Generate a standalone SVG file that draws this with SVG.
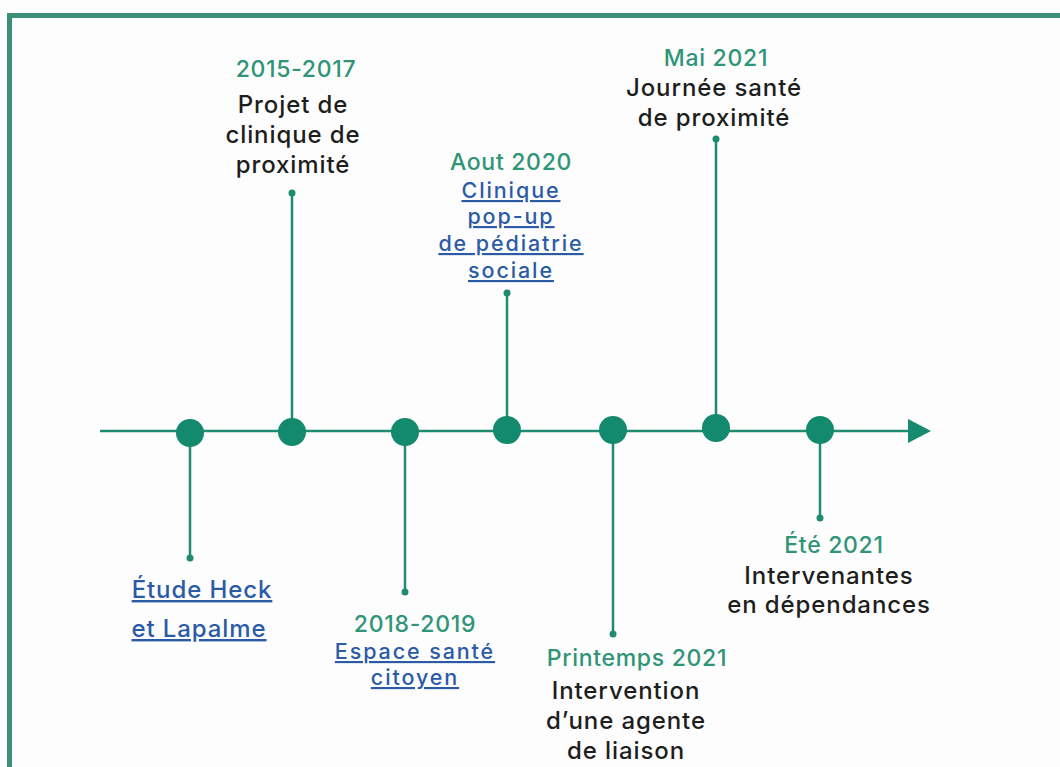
<svg xmlns="http://www.w3.org/2000/svg" width="1060" height="767" viewBox="0 0 1060 767">
<style>
.date{font-family:Inter,"Noto Sans",sans-serif;font-size:23px;font-weight:500;letter-spacing:0.7px;fill:#2f9478;text-anchor:middle}
.lbl{font-family:Inter,"Noto Sans",sans-serif;font-size:24px;font-weight:500;letter-spacing:0.9px;fill:#1e1e1e;text-anchor:middle}
.lnk{font-family:Inter,"Noto Sans",sans-serif;font-size:24px;font-weight:500;letter-spacing:0.9px;fill:#2b5ba6;text-anchor:middle;text-decoration:underline}
.tight{font-size:21.5px;letter-spacing:1.9px}
.stem{stroke:#1f8c72;stroke-width:2.5;fill:none}
.dot{fill:#138a6e}
.end{fill:#1f8c72}
</style>
<rect width="1060" height="767" fill="#fdfdfd"/>
<path d="M9.5,767 V15.5 H1060" fill="none" stroke="#3d8f7a" stroke-width="5"/>
<g id="connectors">
<line class="stem" x1="100" y1="431" x2="910" y2="431"/>
<path d="M908,419 L931,431 L908,443 z" fill="#168b70"/>
<line class="stem" x1="190" y1="434" x2="190" y2="558"/>
<line class="stem" x1="292" y1="431" x2="292" y2="193"/>
<line class="stem" x1="405" y1="431" x2="405" y2="592"/>
<line class="stem" x1="507" y1="431" x2="507" y2="293"/>
<line class="stem" x1="613" y1="431" x2="613" y2="634"/>
<line class="stem" x1="716" y1="431" x2="716" y2="139"/>
<line class="stem" x1="820" y1="431" x2="820" y2="518"/>
<circle class="end" cx="190" cy="558" r="3.5"/>
<circle class="end" cx="292" cy="193" r="3.5"/>
<circle class="end" cx="405" cy="592" r="3.5"/>
<circle class="end" cx="507" cy="293" r="3.5"/>
<circle class="end" cx="613" cy="634" r="3.5"/>
<circle class="end" cx="716" cy="139" r="3.5"/>
<circle class="end" cx="820" cy="518" r="3.5"/>
</g>
<g id="n1"><circle class="dot" cx="190" cy="433" r="14"/>
<text class="lnk" x="202" y="598">Étude Heck </text>
<text class="lnk" x="199" y="637">et Lapalme</text></g>
<g id="n2"><circle class="dot" cx="292" cy="432" r="14"/>
<text class="date" x="296" y="77">2015-2017</text>
<text class="lbl" x="293" y="113">Projet de</text>
<text class="lbl" x="293" y="143">clinique de</text>
<text class="lbl" x="293" y="173">proximité</text></g>
<g id="n3"><circle class="dot" cx="405" cy="432" r="14"/>
<text class="date" x="415" y="632">2018-2019</text>
<text class="lnk tight" x="415" y="659">Espace santé</text>
<text class="lnk tight" x="415" y="685">citoyen</text></g>
<g id="n4"><circle class="dot" cx="507" cy="430" r="14"/>
<text class="date" x="511" y="170">Aout 2020</text>
<text class="lnk tight" x="511" y="198">Clinique </text>
<text class="lnk tight" x="511" y="224">pop-up</text>
<text class="lnk tight" x="511" y="251">de pédiatrie</text>
<text class="lnk tight" x="511" y="278">sociale</text></g>
<g id="n5"><circle class="dot" cx="613" cy="430" r="14"/>
<text class="date" x="637" y="666">Printemps 2021</text>
<text class="lbl" x="626" y="699">Intervention</text>
<text class="lbl" x="626" y="729">d’une agente</text>
<text class="lbl" x="626" y="759">de liaison</text></g>
<g id="n6"><circle class="dot" cx="716" cy="428" r="14"/>
<text class="date" x="716" y="66">Mai 2021</text>
<text class="lbl" x="714" y="96">Journée santé</text>
<text class="lbl" x="714" y="126">de proximité</text></g>
<g id="n7"><circle class="dot" cx="820" cy="430" r="14"/>
<text class="date" x="834" y="553">Été 2021</text>
<text class="lbl" x="829" y="584">Intervenantes</text>
<text class="lbl" x="829" y="613">en dépendances</text></g>
</svg>
